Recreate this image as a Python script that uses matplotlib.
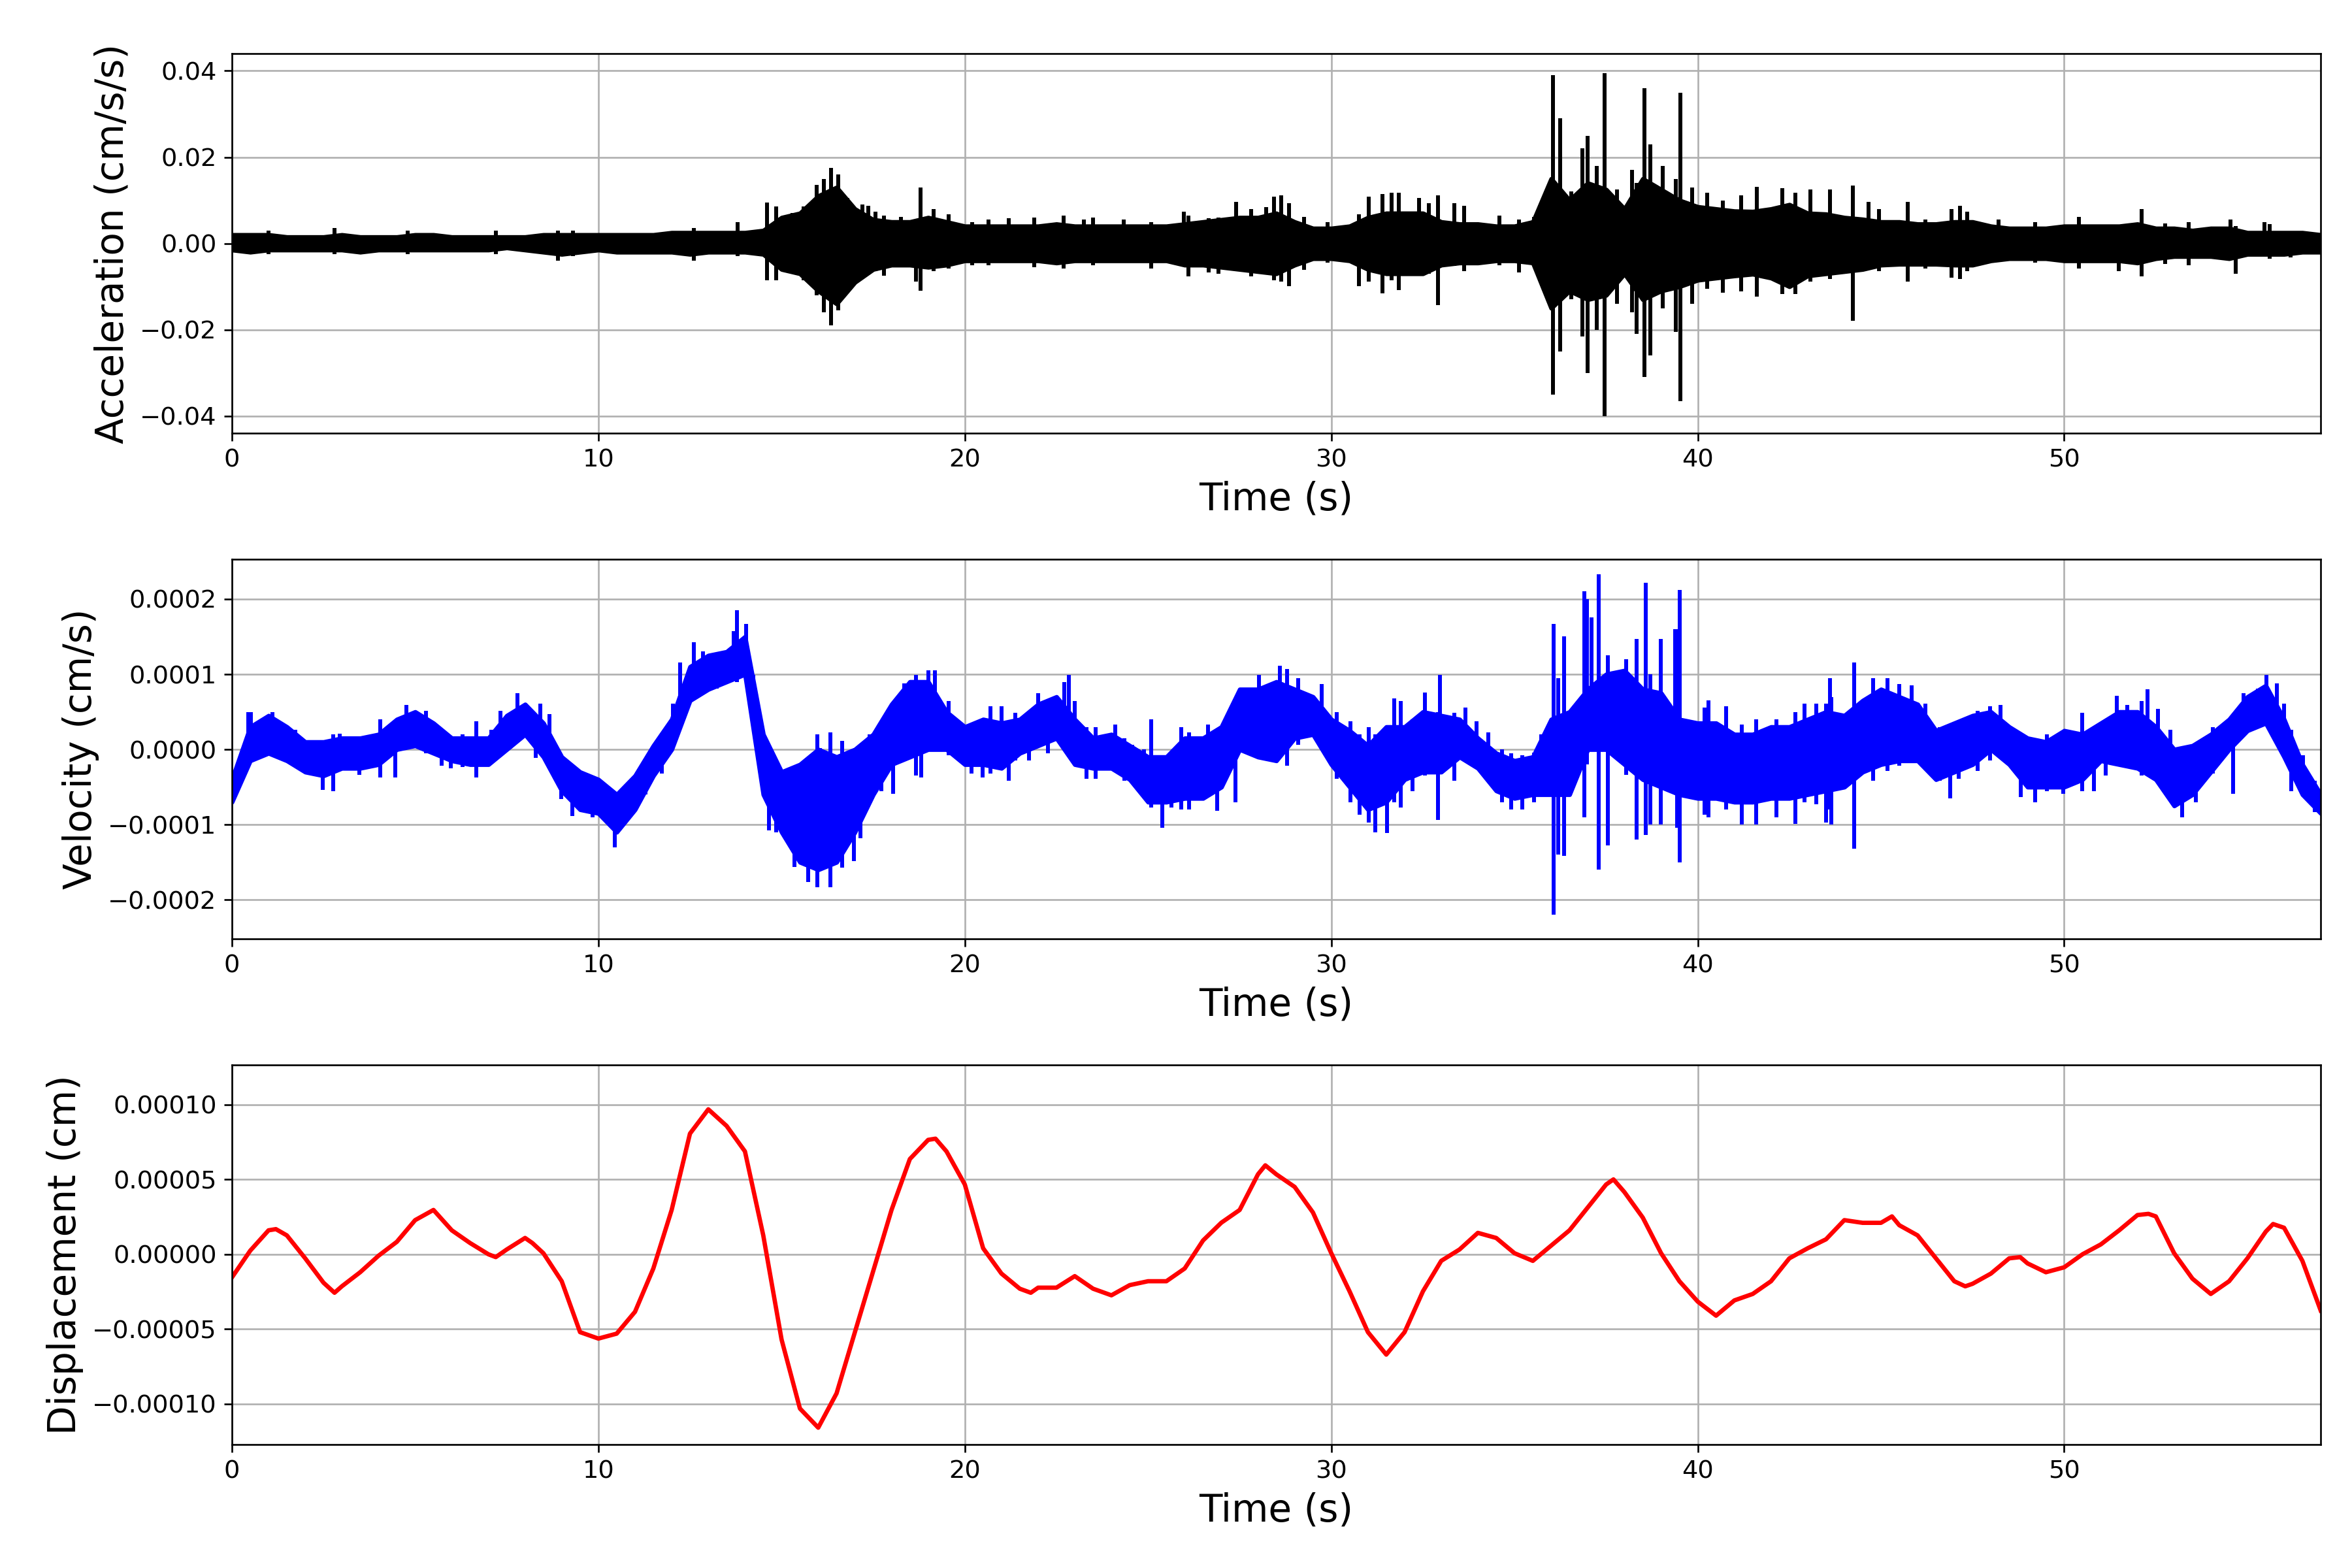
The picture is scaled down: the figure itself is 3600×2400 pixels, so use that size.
import numpy as np
import matplotlib
matplotlib.use("Agg")
import matplotlib.pyplot as plt

# ---------------- data (units noted) ----------------
T_END = 57.0
# body envelope sample times (s)
env_t = [i * 0.5 for i in range(115)]

# Acceleration body envelope, units of 1e-3 cm/s/s
acc_hi = [2.0, 2.0, 2.0, 1.5, 1.5, 1.5, 2.0, 1.5, 1.5, 1.5,
          2.0, 2.0, 1.5, 1.5, 1.5, 1.5, 1.5, 2.0, 2.0, 2.0,
          2.0, 2.0, 2.0, 2.0, 2.5, 2.5, 2.5, 2.5, 2.5, 3.0,
          6.0, 7.0, 11.0, 13.0, 8.0, 5.5, 5.0, 5.0, 6.0, 5.0,
          4.0, 4.0, 4.0, 4.0, 4.0, 4.5, 4.0, 4.0, 4.0, 4.0,
          4.0, 4.0, 4.5, 5.0, 5.5, 6.0, 6.0, 7.0, 5.0, 3.5,
          3.5, 4.0, 6.0, 7.0, 7.0, 7.0, 5.0, 4.5, 4.5, 4.0,
          4.0, 5.0, 15.0, 10.0, 14.0, 12.5, 8.0, 15.0, 12.5, 10.0,
          8.5, 8.0, 7.5, 7.4, 8.0, 9.0, 7.0, 6.8, 6.0, 5.6,
          5.0, 5.0, 4.5, 4.5, 5.0, 5.0, 4.0, 3.5, 3.5, 3.5,
          4.0, 4.0, 4.0, 4.0, 4.5, 3.5, 3.5, 3.0, 3.5, 3.5,
          2.5, 2.5, 2.5, 2.5, 2.0]
acc_lo = [-1.5, -2.0, -1.5, -1.5, -1.5, -1.5, -1.5, -2.0, -1.5, -1.5,
          -1.5, -1.5, -1.5, -1.5, -1.5, -1.0, -1.5, -2.0, -2.5, -2.0,
          -1.5, -2.0, -2.0, -2.0, -2.0, -2.5, -2.0, -2.0, -2.0, -2.5,
          -6.0, -7.0, -11.0, -14.0, -9.0, -6.0, -5.0, -5.0, -5.5, -5.0,
          -4.0, -4.0, -4.0, -4.0, -4.0, -4.5, -4.0, -4.0, -4.0, -4.0,
          -4.0, -4.0, -5.0, -5.0, -5.5, -6.0, -6.5, -7.0, -5.0, -3.5,
          -3.5, -4.0, -6.0, -7.0, -7.0, -7.0, -5.0, -4.5, -4.5, -4.0,
          -4.0, -4.5, -15.0, -11.0, -13.0, -12.0, -7.0, -13.0, -11.0, -10.0,
          -8.5, -8.0, -7.5, -7.1, -8.0, -10.0, -7.5, -7.0, -6.5, -6.0,
          -5.0, -4.8, -4.8, -4.8, -5.0, -5.0, -4.0, -3.5, -3.5, -3.5,
          -4.0, -4.0, -4.0, -4.0, -4.5, -3.5, -3.0, -3.0, -3.0, -3.5,
          -2.5, -2.5, -2.5, -2.0, -2.0]
# Acceleration individual spikes: time (s), top and bottom (1e-3 cm/s/s)
acc_spk_t = [1.0, 2.8, 4.8, 7.2, 8.9, 9.3, 12.6, 13.8, 14.6, 14.85,
             15.3, 15.6, 15.95, 16.15, 16.35, 16.55, 16.8, 17.2, 17.36, 17.57,
             17.8, 18.25, 18.66, 18.8, 19.14, 19.55, 20.2, 20.64, 21.19, 21.9,
             22.69, 23.24, 23.5, 24.33, 25.08, 25.97, 26.1, 26.65, 26.93, 27.4,
             27.81, 28.22, 28.43, 28.63, 28.84, 29.25, 29.9, 30.75, 31.02, 31.4,
             31.64, 31.84, 32.39, 32.66, 32.91, 33.35, 33.62, 34.58, 35.12, 35.53,
             35.75, 36.05, 36.25, 36.55, 36.85, 37.0, 37.25, 37.45, 37.8, 38.2,
             38.34, 38.55, 38.7, 39.05, 39.4, 39.52, 39.85, 40.26, 40.68, 41.18,
             41.61, 42.1, 42.3, 42.67, 43.07, 43.6, 44.23, 44.66, 44.95, 45.73,
             46.22, 46.93, 47.15, 47.36, 48.21, 49.21, 50.41, 51.48, 52.12, 52.76,
             53.4, 54.53, 54.68, 55.46, 55.6, 56.17]
acc_spk_hi = [3.0, 3.5, 3.0, 3.0, 3.0, 3.0, 3.5, 5.0, 9.5, 8.5,
              7.0, 8.5, 13.5, 15.0, 17.5, 16.0, 10.5, 9.0, 8.7, 7.4,
              6.5, 6.2, 5.0, 13.0, 8.0, 6.8, 5.0, 5.5, 5.8, 6.0,
              6.5, 5.5, 6.0, 5.5, 5.0, 7.4, 6.5, 5.8, 6.0, 9.6,
              8.0, 8.4, 10.9, 11.2, 9.3, 6.2, 4.9, 6.8, 10.9, 11.5,
              11.8, 11.8, 10.6, 9.3, 11.2, 9.3, 8.7, 6.5, 5.5, 6.2,
              7.0, 39.0, 29.0, 12.0, 22.0, 25.0, 18.0, 39.5, 12.5, 17.0,
              14.0, 36.0, 23.0, 18.0, 15.0, 35.0, 13.0, 11.8, 9.9, 11.2,
              13.1, 6.2, 12.8, 11.8, 12.5, 12.5, 13.4, 9.6, 8.0, 9.6,
              5.5, 8.0, 8.7, 7.4, 5.5, 4.9, 6.2, 4.3, 8.0, 4.6,
              5.0, 5.5, 4.0, 4.9, 4.5, 2.4]
acc_spk_lo = [-2.5, -2.5, -2.5, -2.5, -4.0, -3.0, -4.0, -3.0, -8.5, -8.5,
              -7.0, -8.5, -12.0, -16.0, -19.0, -15.5, -10.0, -8.0, -7.0, -6.4,
              -7.5, -5.2, -8.9, -11.0, -6.4, -5.8, -5.0, -5.0, -4.5, -5.5,
              -5.8, -4.5, -5.0, -4.3, -5.8, -5.0, -7.7, -6.7, -7.0, -6.4,
              -7.7, -7.0, -8.6, -8.9, -9.9, -6.1, -4.5, -9.9, -8.9, -11.5,
              -8.6, -10.8, -6.4, -7.0, -14.3, -5.2, -6.4, -5.0, -6.7, -5.0,
              -5.0, -35.0, -25.0, -13.0, -21.5, -30.0, -20.0, -40.0, -14.0, -16.0,
              -21.0, -31.0, -26.0, -15.0, -20.5, -36.5, -14.0, -10.5, -11.4, -11.1,
              -12.4, -6.4, -11.8, -11.8, -8.9, -8.3, -18.0, -5.8, -6.4, -8.9,
              -5.8, -8.0, -8.3, -6.4, -4.0, -4.5, -5.8, -6.4, -7.7, -4.8,
              -5.0, -3.5, -7.0, -2.5, -3.5, -3.3]

# Velocity body envelope, units of 1e-5 cm/s
vel_hi = [-4.0, 3.0, 4.5, 3.0, 1.0, 1.0, 1.5, 1.5, 2.0, 4.0,
          5.0, 3.5, 1.5, 1.5, 1.5, 4.5, 6.0, 3.5, -1.0, -3.0,
          -4.0, -6.0, -3.5, 0.5, 4.0, 11.0, 12.5, 13.0, 15.0, 2.0,
          -3.0, -2.0, 0.0, -1.0, 0.0, 2.0, 6.0, 9.0, 9.0, 5.0,
          3.0, 4.0, 3.5, 4.0, 6.0, 7.0, 4.0, 1.5, 2.0, 0.5,
          -1.0, -1.0, 1.5, 1.5, 3.0, 8.0, 8.0, 9.0, 8.0, 7.0,
          4.0, 2.5, 0.5, 3.0, 3.0, 5.0, 4.5, 4.0, 1.5, -0.5,
          -1.5, -1.0, 4.0, 5.0, 8.0, 10.0, 10.5, 8.0, 7.5, 4.0,
          3.5, 3.5, 2.0, 2.0, 3.0, 3.0, 4.0, 5.0, 4.5, 6.5,
          8.0, 7.0, 6.0, 2.5, 3.5, 4.5, 5.0, 3.0, 1.5, 1.0,
          2.5, 2.0, 3.5, 5.0, 5.0, 3.0, 0.0, 0.5, 2.0, 4.0,
          7.0, 8.5, 4.0, -2.0, -6.0]
vel_lo = [-7.0, -1.5, -0.5, -1.5, -3.0, -3.5, -2.5, -2.5, -2.0, 0.0,
          0.5, -0.5, -1.5, -2.0, -2.0, 0.0, 2.0, -1.0, -5.5, -8.0,
          -8.5, -11.0, -8.0, -3.5, 0.0, 6.5, 8.0, 9.0, 10.0, -6.0,
          -11.0, -15.0, -16.0, -15.0, -11.0, -6.0, -2.0, -1.0, 0.0, 0.0,
          -2.0, -2.0, -2.5, -0.5, 0.5, 1.5, -2.0, -2.5, -2.5, -4.0,
          -7.0, -7.0, -6.5, -6.5, -5.0, 0.0, -1.0, -1.5, 1.5, 2.0,
          -2.0, -5.0, -8.0, -7.0, -4.0, -3.0, -3.0, -1.0, -2.5, -5.5,
          -6.5, -6.0, -6.0, -6.0, 0.0, 0.0, -2.0, -4.0, -5.0, -6.0,
          -6.5, -6.5, -7.0, -7.0, -6.5, -6.5, -6.0, -5.5, -5.0, -3.0,
          -2.0, -1.5, -1.5, -4.0, -3.0, -2.0, 0.0, -2.0, -5.0, -5.0,
          -5.0, -4.0, -1.5, -2.0, -2.5, -4.0, -7.5, -6.0, -3.0, 0.0,
          2.5, 3.5, -1.0, -6.0, -8.5]
# Velocity individual spikes: time (s), top and bottom (1e-5 cm/s)
vel_spk_t = [0.45, 0.51, 1.1, 1.39, 1.73, 2.48, 2.76, 2.95, 3.48, 4.04,
             4.45, 4.76, 5.29, 5.73, 5.98, 6.29, 6.66, 7.08, 7.33, 7.79,
             8.29, 8.41, 8.66, 8.98, 9.29, 9.6, 9.85, 10.16, 10.44, 10.73,
             11.04, 11.29, 11.73, 12.04, 12.23, 12.6, 12.85, 13.23, 13.48, 13.7,
             13.79, 14.04, 14.23, 14.48, 14.66, 14.85, 15.16, 15.35, 15.73, 15.98,
             16.04, 16.33, 16.66, 16.98, 17.16, 17.41, 17.73, 18.04, 18.35, 18.66,
             18.81, 19.0, 19.19, 19.56, 20.19, 20.48, 20.7, 21.0, 21.19, 21.38,
             21.75, 22.0, 22.26, 22.71, 22.84, 23.0, 23.32, 23.57, 24.11, 24.36,
             24.57, 24.89, 25.08, 25.39, 25.64, 25.9, 26.12, 26.42, 26.64, 26.89,
             27.39, 27.67, 28.02, 28.6, 28.8, 29.09, 29.74, 29.96, 30.15, 30.53,
             30.78, 31.03, 31.2, 31.53, 31.72, 31.9, 32.22, 32.56, 32.91, 32.97,
             33.35, 33.66, 33.97, 34.29, 34.66, 34.91, 35.22, 35.53, 35.73, 36.06,
             36.35, 36.9, 37.3, 37.55, 38.34, 38.58, 39.0, 39.44, 39.5, 40.19,
             40.3, 40.78, 41.2, 41.59, 42.14, 42.66, 42.91, 43.24, 43.5, 43.6,
             43.65, 44.27, 44.79, 45.18, 45.5, 45.83, 46.22, 46.61, 46.89, 47.12,
             47.64, 47.97, 48.26, 48.81, 49.2, 49.52, 49.97, 50.49, 50.82, 51.14,
             51.44, 51.72, 52.11, 52.28, 52.56, 52.89, 53.21, 53.6, 54.05, 54.61,
             54.9, 55.28, 55.52, 55.8, 56.0, 56.19, 56.52, 56.84,
             36.2, 36.97, 37.1, 38.05, 38.7, 39.38]
vel_spk_hi = [5.0, 5.0, 5.0, 2.5, 2.6, 1.0, 2.0, 2.1, 0.6, 4.0,
              3.0, 5.9, 5.1, 2.3, 1.5, 2.0, 3.7, 2.6, 5.1, 7.5,
              4.7, 6.1, 4.7, -2.2, -2.5, -3.2, -3.9, -5.3, -6.0, -6.0,
              -3.9, -1.3, 1.1, 6.1, 11.6, 14.3, 13.0, 12.3, 13.0, 15.7,
              18.5, 16.7, 9.9, 2.6, 0.2, -3.5, -5.3, -2.2, -3.2, 2.0,
              0.2, 2.3, 1.1, -2.5, -0.8, 2.0, 3.0, 3.0, 8.8, 9.9,
              9.0, 10.5, 10.5, 6.4, 3.0, 2.3, 5.7, 5.7, 3.5, 4.9,
              4.7, 7.5, 5.0, 9.0, 9.9, 6.4, 3.0, 3.0, 3.3, 1.5,
              0.6, 0.0, 4.0, -1.0, -1.1, 3.0, 2.3, 1.0, 3.3, 1.0,
              4.7, 8.0, 9.9, 11.1, 10.7, 9.5, 8.7, 4.5, 5.0, 3.7,
              2.0, 3.0, 2.0, 1.0, 6.8, 6.4, 4.0, 7.6, 5.0, 9.9,
              4.9, 5.6, 3.7, 2.3, 0.0, -0.5, -0.8, -0.4, 2.0, 16.7,
              15.0, 21.0, 23.3, 12.5, 14.7, 22.2, 14.7, 16.0, 21.2, 5.6,
              6.5, 5.7, 3.3, 4.0, 4.0, 5.0, 6.1, 6.1, 6.1, 9.5,
              7.0, 11.6, 9.5, 9.5, 8.7, 8.5, 6.1, 3.0, 2.0, 3.8,
              5.1, 5.7, 5.9, 2.0, 1.5, 2.0, 0.6, 4.9, 2.6, 3.3,
              7.1, 5.9, 6.4, 8.0, 5.4, 2.6, -1.8, 0.9, 3.0, 4.7,
              7.5, 8.1, 9.9, 8.8, 6.1, 2.6, -0.8, -4.2,
              9.5, 20.0, 17.6, 12.0, 10.0, 16.0]
vel_spk_lo = [-1.0, -0.1, -0.8, -1.5, -1.8, -5.4, -5.6, -2.2, -3.4, -3.7,
              -3.7, 1.6, -0.5, -2.2, -2.5, -2.3, -3.7, -1.8, 0.0, 2.5,
              -1.1, 1.0, -0.8, -6.6, -8.9, -7.7, -9.0, -8.0, -13.0, -9.4,
              -7.7, -6.0, -3.2, 0.6, 5.4, 7.5, 8.8, 8.1, 9.0, 10.9,
              9.0, 12.3, 4.7, 0.0, -10.8, -11.0, -12.0, -15.6, -17.6, -18.3,
              -16.0, -18.3, -15.7, -14.9, -11.8, -6.3, -5.6, -5.9, -0.8, -3.5,
              -3.7, 0.0, 1.0, -0.8, -3.2, -3.7, -3.2, -2.0, -4.2, -1.5,
              -1.5, 0.5, -0.5, 2.0, 1.5, 0.2, -3.9, -3.9, -1.8, -4.2,
              -4.2, -5.3, -7.7, -10.4, -7.7, -8.0, -8.0, -6.3, -5.0, -8.2,
              -7.0, -0.4, -0.4, -1.0, -2.2, 0.6, 1.4, -0.8, -3.9, -7.0,
              -8.7, -9.7, -11.0, -11.1, -7.0, -7.7, -5.6, -3.5, -9.4, -3.0,
              -4.2, -1.1, -1.5, -3.5, -7.0, -8.0, -8.0, -7.0, -6.1, -22.0,
              -14.2, -9.0, -16.0, -12.8, -12.0, -11.4, -10.0, -10.4, -15.0, -8.7,
              -9.0, -8.0, -10.0, -10.0, -9.0, -9.9, -7.0, -7.3, -9.7, -8.0,
              -10.0, -13.2, -4.2, -2.9, -2.2, -1.8, -2.2, -4.2, -6.5, -3.9,
              -2.9, -1.5, -0.4, -6.3, -7.0, -5.6, -5.9, -5.6, -5.6, -3.5,
              -1.0, -1.8, -3.5, -2.0, -3.5, -4.9, -9.0, -7.0, -3.2, -5.9,
              2.3, 3.3, 3.5, 4.4, -0.8, -5.6, -5.9, -8.3,
              -14.0, -2.0, 0.0, -3.4, -10.0, -5.0]

# Displacement, time (s) and value (1e-6 cm)
disp_t = [0.0, 0.5, 1.0, 1.2, 1.5, 2.0, 2.5, 2.8, 3.0, 3.5,
          4.0, 4.5, 5.0, 5.5, 6.0, 6.5, 7.0, 7.2, 7.5, 8.0,
          8.2, 8.5, 9.0, 9.5, 10.0, 10.5, 11.0, 11.5, 12.0, 12.5,
          13.0, 13.5, 14.0, 14.5, 15.0, 15.5, 16.0, 16.5, 17.0, 17.5,
          18.0, 18.5, 19.0, 19.2, 19.5, 20.0, 20.5, 21.0, 21.5, 21.8,
          22.0, 22.5, 23.0, 23.5, 24.0, 24.5, 25.0, 25.5, 26.0, 26.5,
          27.0, 27.5, 28.0, 28.2, 28.5, 29.0, 29.5, 30.0, 30.5, 31.0,
          31.5, 32.0, 32.5, 33.0, 33.5, 34.0, 34.5, 35.0, 35.5, 36.0,
          36.5, 37.0, 37.5, 37.7, 38.0, 38.5, 39.0, 39.5, 40.0, 40.5,
          41.0, 41.5, 42.0, 42.5, 43.0, 43.5, 44.0, 44.5, 45.0, 45.3,
          45.5, 46.0, 46.5, 47.0, 47.3, 47.5, 48.0, 48.5, 48.8, 49.0,
          49.5, 50.0, 50.5, 51.0, 51.5, 52.0, 52.3, 52.5, 53.0, 53.5,
          54.0, 54.5, 55.0, 55.5, 55.7, 56.0, 56.5, 57.0]
disp_v = [-15.5, 2.4, 16.0, 16.8, 12.6, -2.7, -19.0, -25.7, -21.4, -12.0,
          -1.0, 8.3, 22.8, 29.6, 16.0, 7.5, 0.0, -1.9, 3.2, 10.9,
          7.5, 0.7, -18.0, -52.0, -56.3, -53.0, -38.4, -9.5, 29.6, 80.6,
          96.8, 85.7, 68.7, 12.6, -57.0, -103.0, -115.8, -92.9, -52.0, -11.2,
          29.6, 63.6, 76.4, 77.2, 68.7, 46.6, 4.0, -12.9, -23.0, -25.7,
          -22.3, -22.3, -14.6, -23.0, -27.4, -20.6, -18.0, -18.0, -9.5, 9.2,
          21.1, 29.6, 53.4, 59.4, 53.4, 45.0, 27.9, 0.7, -24.8, -52.0,
          -67.0, -52.0, -24.8, -4.4, 3.2, 14.3, 10.9, 0.7, -4.4, 5.8,
          16.0, 31.3, 46.6, 50.0, 41.5, 24.5, 0.7, -18.0, -31.6, -41.0,
          -30.8, -26.5, -18.0, -2.7, 4.0, 10.0, 22.8, 21.0, 21.0, 25.3,
          19.4, 12.6, -2.7, -18.0, -21.4, -19.7, -12.9, -2.7, -1.9, -6.1,
          -12.0, -8.7, 0.0, 6.6, 16.0, 26.2, 27.0, 25.3, 0.7, -16.3,
          -26.5, -18.0, -2.7, 15.1, 20.2, 17.7, -4.4, -37.6]

ACC_UNIT = 1e-3
VEL_UNIT = 1e-5
DISP_UNIT = 1e-6

# ---------------- figure ----------------
fig, axes = plt.subplots(3, 1, figsize=(15, 10), dpi=240)
fig.subplots_adjust(left=0.0986, right=0.9867, top=0.9658, bottom=0.0788,
                    hspace=0.332)

LW = 2.0
SPK_LW = 1.8
LABEL_FS = 17.4
TICK_FS = 11.5


def draw_trace(ax, hi, lo, spk_t, spk_hi, spk_lo, unit, color):
    n = min(len(spk_t), len(spk_hi), len(spk_lo))
    ax.fill_between(env_t, np.array(lo) * unit, np.array(hi) * unit,
                    color=color, lw=LW, zorder=2)
    ax.vlines(spk_t[:n], np.array(spk_lo[:n]) * unit, np.array(spk_hi[:n]) * unit,
              colors=color, lw=SPK_LW, zorder=2)


draw_trace(axes[0], acc_hi, acc_lo, acc_spk_t, acc_spk_hi, acc_spk_lo, ACC_UNIT, 'black')
axes[0].set_ylim(-0.0440, 0.0440)
axes[0].set_ylabel('Acceleration (cm/s/s)', fontsize=LABEL_FS)

draw_trace(axes[1], vel_hi, vel_lo, vel_spk_t, vel_spk_hi, vel_spk_lo, VEL_UNIT, 'blue')
axes[1].set_ylim(-0.000252, 0.000253)
axes[1].set_ylabel('Velocity (cm/s)', fontsize=LABEL_FS)

axes[2].plot(disp_t, np.array(disp_v) * DISP_UNIT, color='red', lw=LW)
axes[2].set_ylim(-0.000127, 0.0001265)
axes[2].set_ylabel('Displacement (cm)', fontsize=LABEL_FS)

for ax in axes:
    ax.set_xlim(0, T_END)
    ax.set_xlabel('Time (s)', fontsize=LABEL_FS)
    ax.grid(True)
    ax.tick_params(labelsize=TICK_FS)

fig.savefig('out.png', dpi=240)
